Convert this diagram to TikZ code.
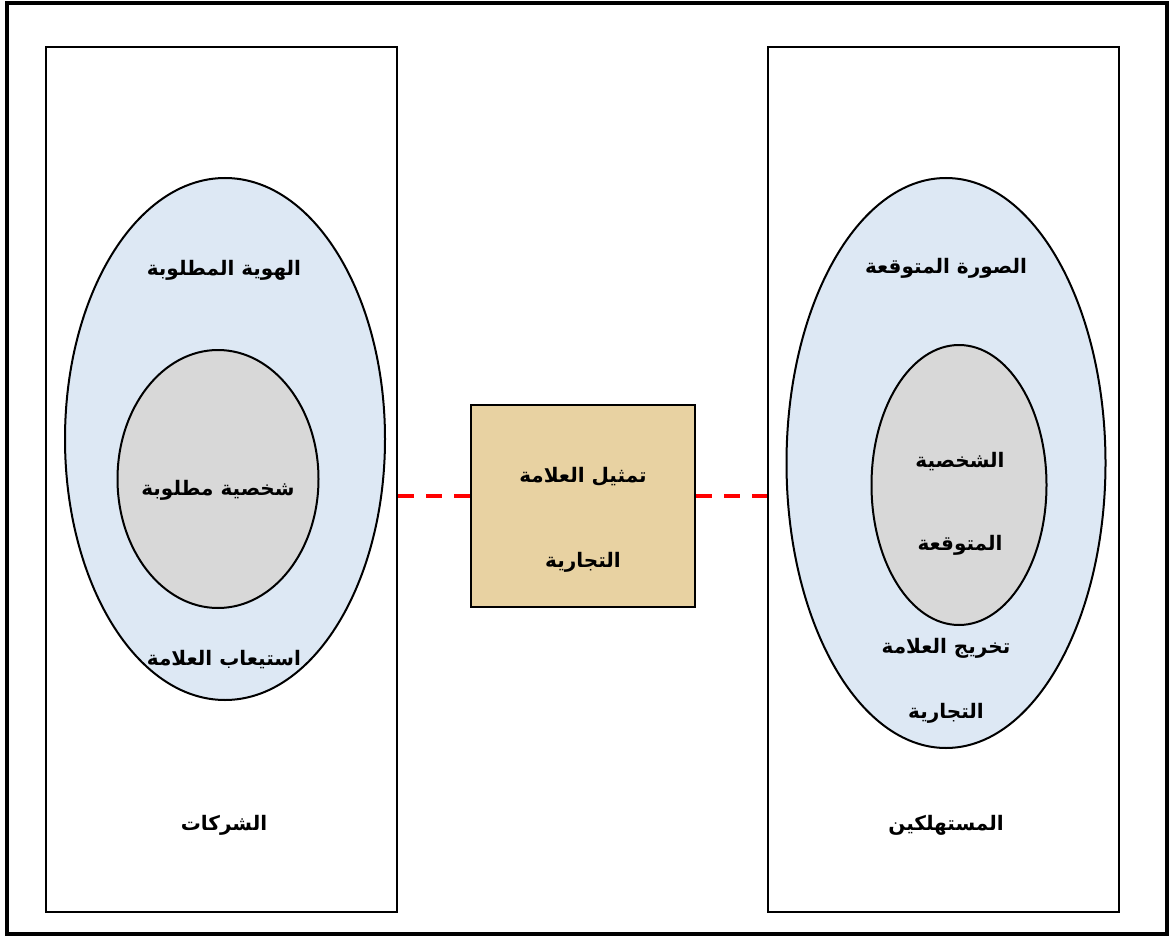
\documentclass[tikz,border=0pt]{standalone}
\usepackage{fontspec}
\newfontfamily\arabicfont[Script=Arabic]{DejaVu Sans}
\TeXXeTstate=1
\usetikzlibrary{shapes.geometric, positioning}
\definecolor{skyfill}{RGB}{221,232,244}
\definecolor{marblefill}{RGB}{216,216,216}
\definecolor{papyrus}{RGB}{232,210,162}
\newcommand{\rtltext}[1]{\beginR #1\endR}
\tikzset{
  panel/.style={draw, line width=2pt, minimum width=351pt, minimum height=865pt, inner sep=0pt},
  outerring/.style={ellipse, draw, line width=2pt, fill=skyfill, inner sep=0pt},
  core/.style={ellipse, draw, line width=2pt, fill=marblefill, inner sep=0pt},
  lbl/.style={font=\arabicfont\bfseries\fontsize{20}{24}\selectfont, align=center, inner sep=1pt},
  link/.style={red, line width=4pt, dash pattern=on 16pt off 12pt}
}

\begin{document}
\begin{tikzpicture}[x=1pt,y=-1pt]
    \useasboundingbox (0,0) rectangle (1170,936);
    \draw[line width=4pt] (7,3) rectangle (1167,934);

    % two sides
    \node[panel] (companies) at (221.5,479.5) {};
    \node[panel] (consumers) at (943.5,479.5) {};

    % left side: identity
    \node[outerring, minimum width=320pt, minimum height=522pt] (identity) at (225,439) {};
    \node[core, minimum width=201pt, minimum height=258pt] (persona) at (218,479) {};

    % right side: image
    \node[outerring, minimum width=319pt, minimum height=570pt] (image) at (946,463) {};
    \node[core, minimum width=175pt, minimum height=280pt] (expected) at (959,485) {};

    % middle box
    \node[draw, line width=2pt, fill=papyrus, minimum width=224pt, minimum height=202pt] (brand) at (583,506) {};
    \coordinate (tie) at (583,496);

    \node[lbl] (idlbl) at (224,270) {\rtltext{الهوية المطلوبة}};
    \node[lbl] (perslbl) at (218,490) {\rtltext{شخصية مطلوبة}};
    \node[lbl] (absorb) at (224,660) {\rtltext{استيعاب العلامة}};
    \node[lbl] (complbl) at (224,825) {\rtltext{الشركات}};

    \node[lbl] (brandtop) at (583,477) {\rtltext{تمثيل العلامة}};
    \node[lbl] (brandbot) at (583,562) {\rtltext{التجارية}};

    \node[lbl] (imglbl) at (946,268) {\rtltext{الصورة المتوقعة}};
    \node[lbl] (exptop) at (960,462) {\rtltext{الشخصية}};
    \node[lbl] (expbot) at (960,545) {\rtltext{المتوقعة}};
    \node[lbl] (outtop) at (946,648) {\rtltext{تخريج العلامة}};
    \node[lbl] (outbot) at (946,713) {\rtltext{التجارية}};
    \node[lbl] (conslbl) at (946,825) {\rtltext{المستهلكين}};

    % dashed links
    \draw[link] (companies.east |- tie) -- (brand.west |- tie);
    \draw[link] (brand.east |- tie) -- (consumers.west |- tie);
\end{tikzpicture}
\end{document}
